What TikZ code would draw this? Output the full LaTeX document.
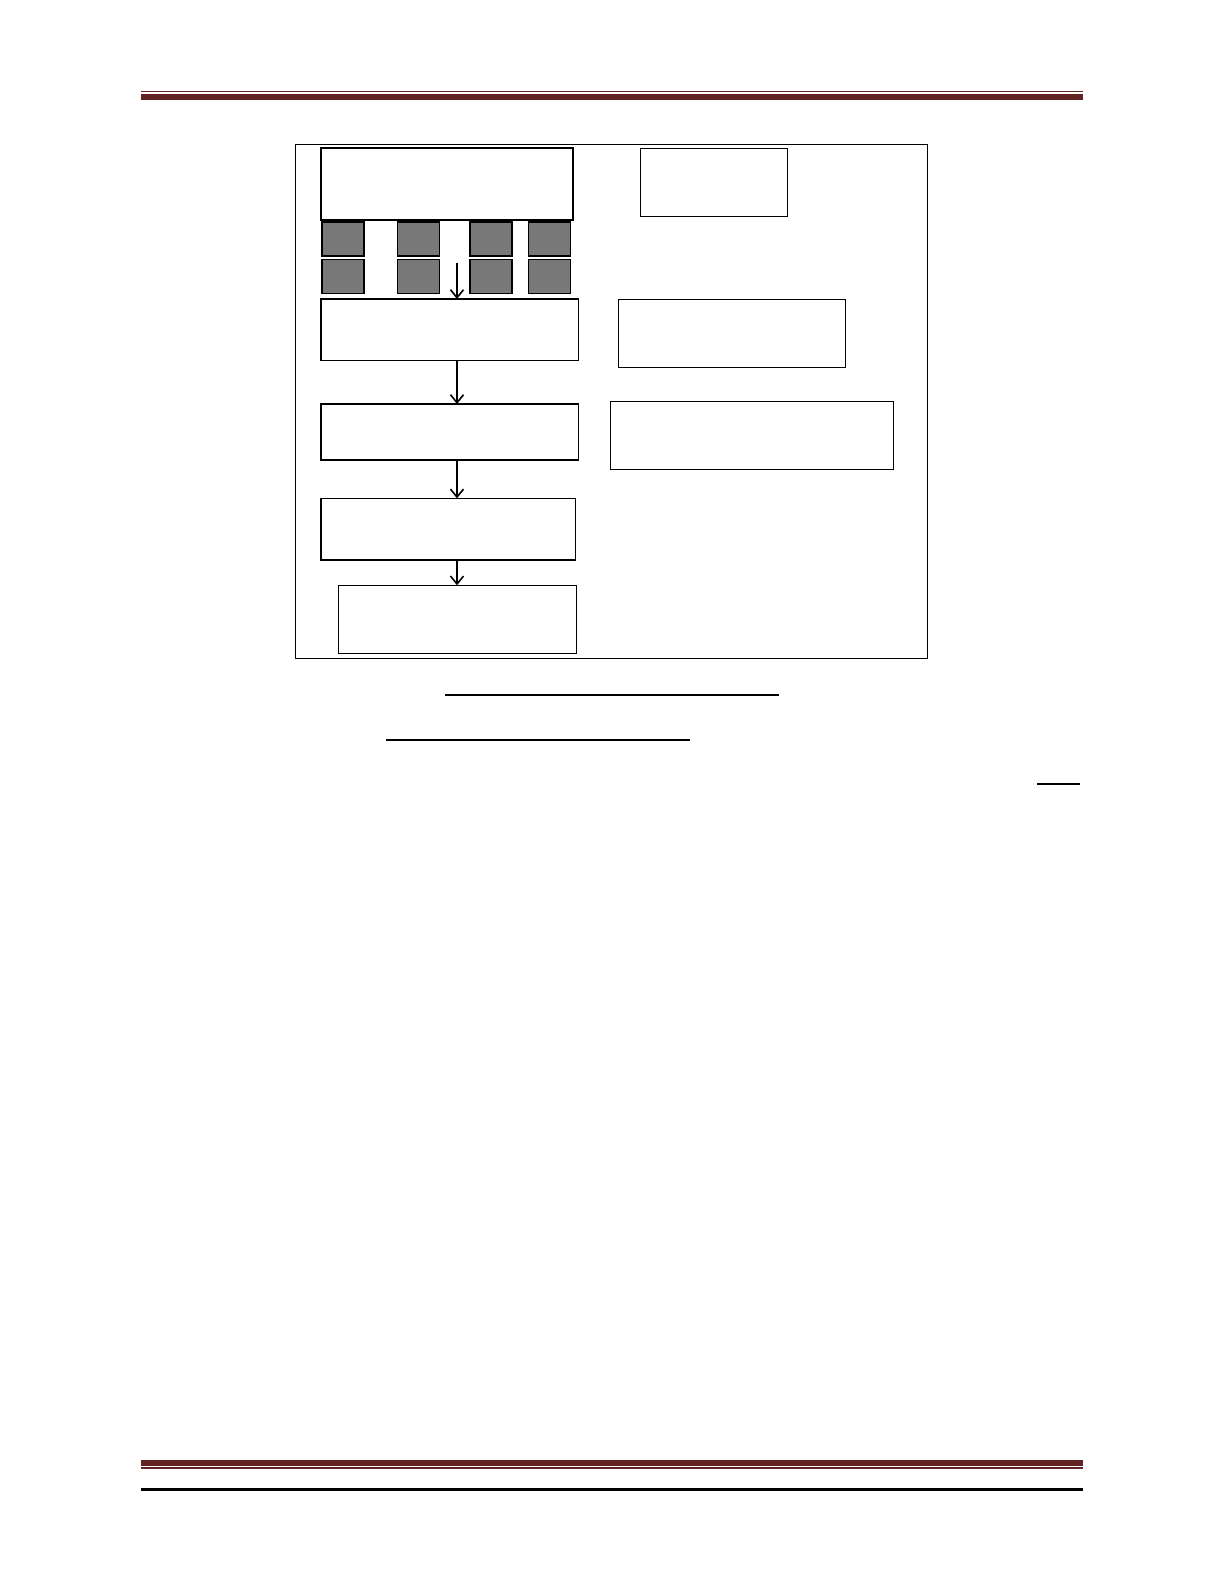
\documentclass[tikz,border=0pt]{standalone}
\usepackage{tikz}
\usetikzlibrary{positioning,arrows.meta}
\definecolor{rulered}{HTML}{622423}

\begin{document}
\begin{tikzpicture}[x=0.5pt,y=0.5pt,yscale=-1,xscale=1,
        box/.style={draw,line width=0.7pt,inner sep=0pt,outer sep=0pt},
        cell/.style={draw,fill=black!53,line width=0.8pt,minimum width=21pt,minimum height=17pt,inner sep=0pt},
        flow/.style={line width=0.8pt,-{Straight Barb[length=4pt,width=6.5pt]}}]
        %set diagram to the page: 1224 x 1584
        \useasboundingbox (0,0) rectangle (1224,1584);
        
        %Header rules
        \fill[rulered] (141,91) rectangle (1083,92.5);
        \fill[rulered] (141,94) rectangle (1083,99.7);
        
        %Shape: Rectangle (outer frame)
        \node[draw,line width=0.5pt,minimum width=316pt,minimum height=257pt,inner sep=0pt] (frame) at (611,401.3) {};
        
        %Shape: Rectangle (top block)
        \node[box,line width=1.2pt,minimum width=126pt,minimum height=36pt] (top) at (447,184) {};
        
        %Shape: Rectangles (grey cells)
        \foreach \cx [count=\i] in {343,418.3,491,549.3} {
            \node[cell] (c\i a) at (\cx,239) {};
            \node[cell] (c\i b) at (\cx,276.3) {};
        }
        
        %Shape: Rectangles (left column)
        \node[box,minimum width=128.75pt,minimum height=30.8pt] (stepA) at (449.8,329.8) {};
        \node[box,minimum width=128.75pt,minimum height=28pt] (stepB) at (449.8,432) {};
        \node[box,minimum width=127.35pt,minimum height=30.85pt] (stepC) at (448.3,529.2) {};
        \node[box,minimum width=119.2pt,minimum height=34pt] (stepD) at (457.5,619.3) {};
        
        %Shape: Rectangles (right column)
        \node[box,minimum width=73.7pt,minimum height=34pt] (sideA) at (714,182.3) {};
        \node[box,minimum width=113.7pt,minimum height=34.2pt] (sideB) at (732,333.5) {};
        \node[box,minimum width=141.5pt,minimum height=33.8pt] (sideC) at (751.8,435.5) {};
        
        %Straight Lines (arrows)
        \coordinate (spine) at (457,263);
        \draw[flow] (spine) -- (stepA.north -| spine);
        \draw[flow] (stepA.south -| spine) -- (stepB.north -| spine);
        \draw[flow] (stepB.south -| spine) -- (stepC.north -| spine);
        \draw[flow] (stepC.south -| spine) -- (stepD.north -| spine);
        
        %Straight Lines (underlines below frame)
        \draw[line width=0.7pt] (445,695) -- (779,695);
        \draw[line width=0.7pt] (386,740) -- (690,740);
        \draw[line width=0.7pt] (1037,784) -- (1080,784);
        
        %Footer rules
        \fill[rulered] (141,1460) rectangle (1083,1466);
        \fill[rulered] (141,1467.3) rectangle (1083,1469.3);
        \draw[line width=1.1pt] (141,1489.5) -- (1083,1489.5);
        \end{tikzpicture}
\end{document}
